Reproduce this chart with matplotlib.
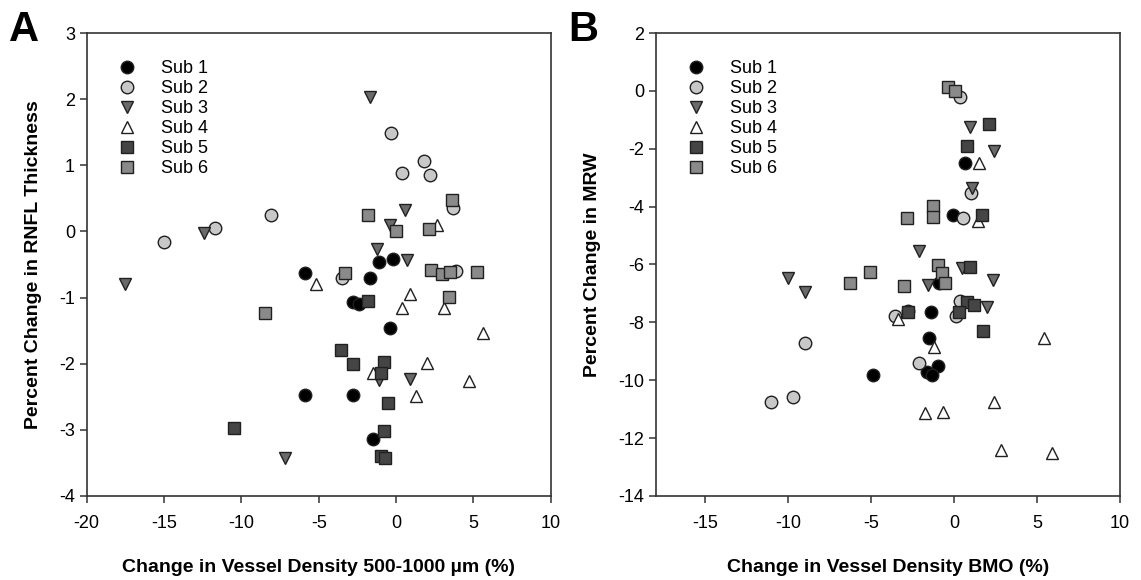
import matplotlib.pyplot as plt

plt.rcParams['font.family'] = ['Liberation Sans', 'DejaVu Sans']
plt.rcParams['axes.unicode_minus'] = False

subjects = ["Sub 1", "Sub 2", "Sub 3", "Sub 4", "Sub 5", "Sub 6"]
markers = ["o", "o", "v", "^", "s", "s"]
colors = ["#000000", "#c8c8c8", "#6a6a6a", "#ffffff", "#454545", "#8a8a8a"]

# panel A: change in vessel density 500-1000 um vs change in RNFL thickness
a_x = [
    [-5.9, -1.1, -0.2, -1.7, -2.8, -2.4, -0.4, -2.8, -1.5, -5.9],
    [-15.0, -11.7, -8.1, -0.3, 1.8, 0.4, 2.2, 3.7, -3.5, 3.9],
    [-17.5, -12.4, -1.7, 0.6, -0.4, -1.25, 0.7, -1.1, 0.9, -7.2],
    [-5.2, 2.65, 0.9, 0.4, 3.1, 5.6, 2.0, -1.5, 4.7, 1.3],
    [-10.5, -3.55, -2.8, -0.75, -1.0, -0.55, -0.75, -1.0, -0.7, -1.8],
    [-8.5, -1.8, 0.0, 2.15, 3.6, -3.3, 2.25, 3.0, 3.5, 5.2, 3.45],
]
a_y = [
    [-0.63, -0.46, -0.42, -0.71, -1.06, -1.10, -1.46, -2.47, -3.14, -2.48],
    [-0.16, 0.05, 0.25, 1.49, 1.06, 0.88, 0.86, 0.36, -0.71, -0.60],
    [-0.80, -0.02, 2.04, 0.32, 0.09, -0.27, -0.43, -2.25, -2.23, -3.43],
    [-0.79, 0.09, -0.95, -1.16, -1.16, -1.54, -1.99, -2.14, -2.26, -2.49],
    [-2.98, -1.80, -2.01, -1.97, -2.14, -2.59, -3.02, -3.40, -3.42, -1.05],
    [-1.24, 0.25, 0.0, 0.03, 0.47, -0.63, -0.59, -0.64, -0.62, -0.62, -0.99],
]

# panel B: change in vessel density BMO vs change in MRW
b_x = [
    [0.67, -0.08, -4.9, -2.8, -1.4, -0.9, -1.5, -1.0, -1.65, -1.35],
    [0.35, 1.0, 0.55, -9.0, -9.75, -11.05, -3.6, 0.35, 0.1, -2.15],
    [0.95, 2.4, 1.05, -2.15, 0.45, -10.0, -9.0, -1.6, 2.35, 1.95],
    [1.5, 1.45, -3.4, -1.2, 5.4, 2.4, -1.75, -0.65, 2.85, 5.9],
    [2.1, 0.8, 1.7, 0.95, 0.8, 1.2, 0.3, -2.8, 1.75],
    [-0.4, 0.05, -1.25, -1.25, -2.85, -5.05, -0.95, -0.75, -0.55, -3.0, -6.3],
]
b_y = [
    [-2.48, -4.29, -9.82, -7.6, -7.66, -6.65, -8.55, -9.5, -9.7, -9.82],
    [-0.2, -3.52, -4.4, -8.72, -10.57, -10.74, -7.78, -7.25, -7.78, -9.39],
    [-1.24, -2.07, -3.37, -5.52, -6.13, -6.48, -6.94, -6.71, -6.53, -7.46],
    [-2.5, -4.49, -7.89, -8.84, -8.55, -10.74, -11.12, -11.09, -12.43, -12.52],
    [-1.14, -1.9, -4.29, -6.1, -7.28, -7.4, -7.63, -7.66, -8.3],
    [0.12, 0.0, -3.98, -4.35, -4.38, -6.27, -6.02, -6.3, -6.63, -6.74, -6.63],
]

fig = plt.figure(figsize=(11.41, 5.8), dpi=100)
axA = fig.add_axes([0.076, 0.145, 0.4067, 0.798])
axB = fig.add_axes([0.5747, 0.145, 0.4069, 0.798])


def draw(ax, xs, ys):
    for i in range(len(subjects)):
        ax.plot(xs[i], ys[i], linestyle="none", marker=markers[i], ms=9,
                mfc=colors[i], mec="#202020", mew=1.0, label=subjects[i])
    ax.legend(loc="upper left", frameon=False, fontsize=13,
              handletextpad=1.1, labelspacing=0.17, borderaxespad=1.0,
              handlelength=1.5, borderpad=0.5)
    for spine in ax.spines.values():
        spine.set_linewidth(1.2)
        spine.set_color("#333333")
    ax.tick_params(direction="out", length=5, width=1.1, labelsize=13,
                   top=False, right=False, color="#333333")
    ax.tick_params(axis="x", pad=9)


draw(axA, a_x, a_y)
axA.set_xlim(-20, 10)
axA.set_ylim(-4, 3)
axA.set_xticks([-20, -15, -10, -5, 0, 5, 10])
axA.set_yticks([-4, -3, -2, -1, 0, 1, 2, 3])
axA.set_xlabel("Change in Vessel Density 500-1000 \u00b5m (%)", fontsize=14,
               fontweight="bold", labelpad=19)
axA.set_ylabel("Percent Change in RNFL Thickness", fontsize=14,
               fontweight="bold", labelpad=12)

draw(axB, b_x, b_y)
axB.set_xlim(-18, 10)
axB.set_ylim(-14, 2)
axB.set_xticks([-15, -10, -5, 0, 5, 10])
axB.set_yticks([-14, -12, -10, -8, -6, -4, -2, 0, 2])
axB.set_xlabel("Change in Vessel Density BMO (%)", fontsize=14,
               fontweight="bold", labelpad=19)
axB.set_ylabel("Percent Change in MRW", fontsize=14, fontweight="bold",
               labelpad=12)

fig.text(0.008, 0.93, "A", fontsize=30, fontweight="bold")
fig.text(0.498, 0.93, "B", fontsize=30, fontweight="bold")

fig.savefig("out.png", dpi=100)
